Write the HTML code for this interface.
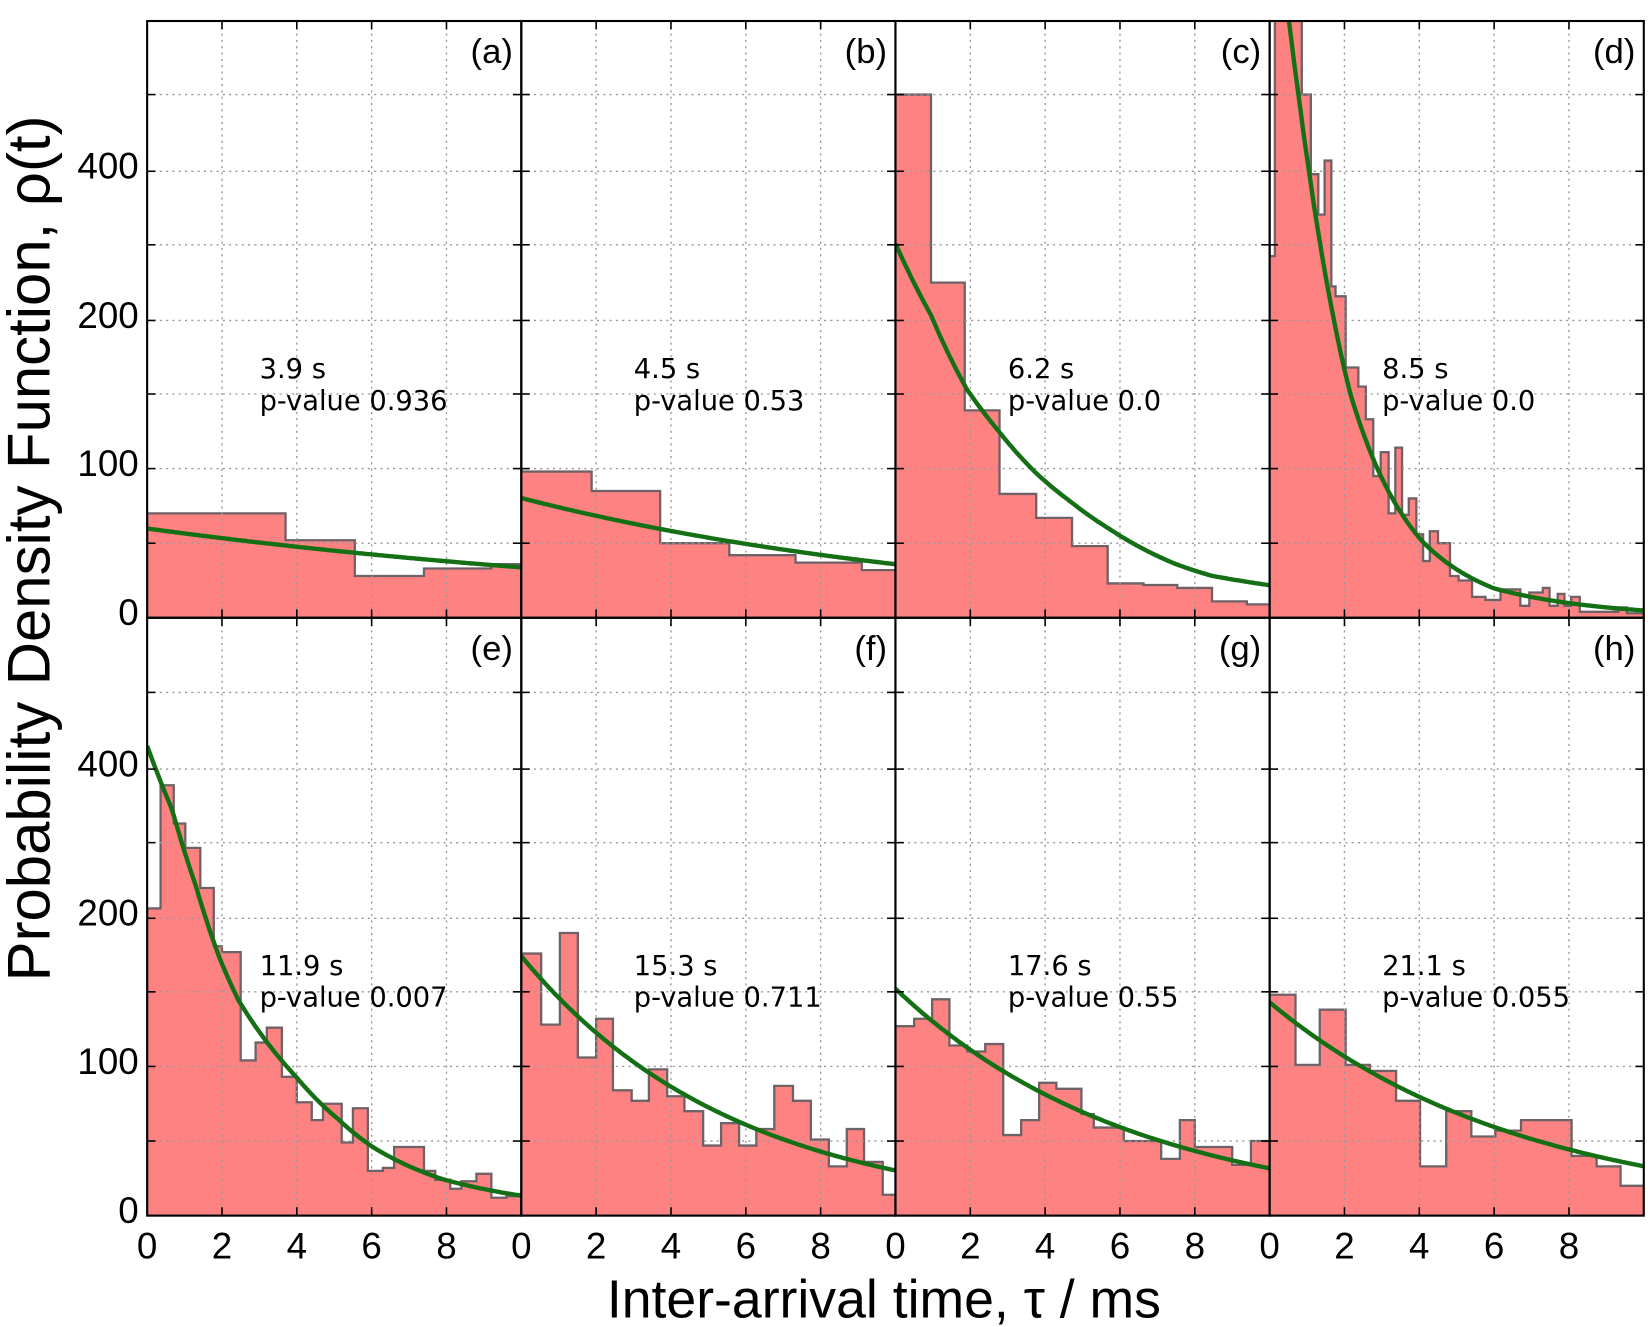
<!DOCTYPE html>
<html><head><meta charset="utf-8"><style>
html,body{margin:0;padding:0;background:#fff;}
svg{display:block;}
</style></head><body>
<svg id="s" width="1648" height="1327" viewBox="0 0 1568 1263" preserveAspectRatio="none" xmlns="http://www.w3.org/2000/svg"></svg>
<script>
const S=document.getElementById('s');
const M=[[0,0],[50,71],[100,142],[150,213],[200,283],[300,355],[400,425],[500,498],[600,568],[700,640]];
function off(v){for(let i=1;i<M.length;i++){if(v<=M[i][0]){const a=M[i-1],b=M[i];return a[1]+(v-a[0])/(b[0]-a[0])*(b[1]-a[1]);}}return 640;}
const PX=35.6;
const lefts=[140,496,852,1208];
const panels=[
{row:0,col:0,lab:'(a)',t1:'3.9 s',t2:'p-value 0.936',e:[0,3.7,5.55,7.4,9.2,10],v:[70,52,28,33,36],fit:[[0,85],[10,48]]},
{row:0,col:1,lab:'(b)',t1:'4.5 s',t2:'p-value 0.53',e:[0,1.88,3.71,5.56,7.33,9.1,10],v:[98,85,50,42,37,32],fit:[[0,114],[10,51]]},
{row:0,col:2,lab:'(c)',t1:'6.2 s',t2:'p-value 0.0',e:[0,0.95,1.85,2.78,3.76,4.72,5.67,6.63,7.53,8.46,9.39,10],v:[500,250,139,83,67,48,23,22,20,11,9],fit:[[0,356],[0.95,288],[1.9,218],[2.75,178],[3.75,138],[4.7,110],[5.7,85],[6.6,66],[7.5,51],[8.45,40],[10,31]]},
{row:0,col:3,lab:'(d)',t1:'8.5 s',t2:'p-value 0.0',e:[0,0.14,0.86,1.1,1.3,1.47,1.65,1.76,2.03,2.37,2.57,2.77,2.97,3.18,3.36,3.54,3.72,3.92,4.1,4.28,4.5,4.82,5.05,5.41,5.77,6.17,6.7,6.94,7.3,7.48,7.7,7.88,8.06,8.29,9.32,9.55,10],v:[285,700,500,396,341,414,245,232,168,155,133,95,111,70,114,69,80,56,38,58,50,28,25,14,12,19,8,17,20,8,16,8,14,4,7,3],fit:[[0.4,610],[0.5,573],[0.77,498],[1.04,428],[1.35,356],[1.71,285],[2.16,213],[2.88,142],[4.1,72],[6.0,28],[10,7]]},
{row:1,col:0,lab:'(e)',t1:'11.9 s',t2:'p-value 0.007',e:[0,0.36,0.71,1.02,1.42,1.78,2.0,2.5,2.9,3.2,3.6,4.0,4.4,4.7,5.2,5.5,5.9,6.3,6.6,7.0,7.4,7.7,8.1,8.4,8.8,9.2,9.6,10],v:[213,378,326,293,240,181,177,104,116,126,93,76,64,75,49,72,30,32,46,46,30,24,18,23,28,12,13],fit:[[0,447],[0.67,386],[1.29,315],[1.96,243],[2.44,205],[3.96,133],[5.1,92],[6.0,66],[7.87,35],[10,19]]},
{row:1,col:1,lab:'(f)',t1:'15.3 s',t2:'p-value 0.711',e:[0,0.53,1.03,1.51,2.0,2.45,2.95,3.41,3.9,4.36,4.86,5.34,5.82,6.28,6.76,7.26,7.74,8.22,8.7,9.16,9.66,10],v:[176,128,190,106,132,84,77,98,80,70,47,62,47,58,87,77,51,33,58,36,14],fit:[[0,247],[10,43]]},
{row:1,col:2,lab:'(g)',t1:'17.6 s',t2:'p-value 0.55',e:[0,0.5,0.98,1.44,1.92,2.4,2.88,3.36,3.84,4.3,4.97,5.3,6.1,7.1,7.6,8.0,9.0,9.5,10],v:[127,132,145,114,110,115,54,64,89,85,68,59,50,38,64,46,34,50],fit:[[0,216],[10,45]]},
{row:1,col:3,lab:'(h)',t1:'21.1 s',t2:'p-value 0.055',e:[0,0.69,1.34,2.03,2.68,3.38,4.02,4.72,5.39,6.03,6.72,8.07,8.74,9.38,10],v:[148,101,138,101,97,77,33,70,53,57,64,40,33,20],fit:[[0,203],[10,47]]}
];
let h='<defs>';
panels.forEach((p,i)=>{const L=lefts[p.col],T=p.row?588:20;h+=`<clipPath id="c${i}"><rect x="${L}" y="${T}" width="356" height="${p.row?569:568}"/></clipPath>`;});
h+='</defs>';
panels.forEach((p,i)=>{
 const L=lefts[p.col],B=p.row?1157:588,T=p.row?588:20;
 const X=t=>L+t*PX, Y=v=>B-off(v);
 let g=`<g clip-path="url(#c${i})">`;
 let d=`M${X(0)},${B}`;
 for(let k=0;k<p.v.length;k++){d+=` L${X(p.e[k]).toFixed(1)},${Y(p.v[k]).toFixed(1)} L${X(p.e[k+1]).toFixed(1)},${Y(p.v[k]).toFixed(1)}`;}
 d+=` L${X(p.e[p.e.length-1]).toFixed(1)},${B} Z`;
 g+=`<path d="${d}" fill="#ff8282" stroke="#6e6266" stroke-width="2.2" stroke-linejoin="miter"/>`;
 for(const t of [2,4,6,8]) g+=`<line x1="${X(t)}" y1="${T}" x2="${X(t)}" y2="${B}" stroke="#999" stroke-width="1.3" stroke-dasharray="2,4"/>`;
 for(const v of [50,100,150,200,300,400,500]) g+=`<line x1="${L}" y1="${Y(v)}" x2="${L+356}" y2="${Y(v)}" stroke="#999" stroke-width="1.3" stroke-dasharray="2,4"/>`;
 const f=p.fit;let pts=[];
 for(let t=f[0][0];t<=f[f.length-1][0]+1e-9;t+=0.05){let j=1;while(j<f.length-1&&t>f[j][0])j++;const a=f[j-1],b=f[j];const r=(t-a[0])/(b[0]-a[0]);const o=Math.exp(Math.log(a[1])+r*(Math.log(b[1])-Math.log(a[1])));pts.push(X(t).toFixed(1)+','+(B-o).toFixed(1));}
 g+=`<polyline points="${pts.join(' ')}" fill="none" stroke="#157015" stroke-width="4.2"/>`;
 g+='</g>';
 for(const t of [2,4,6,8]){g+=`<line x1="${X(t)}" y1="${B}" x2="${X(t)}" y2="${B-8}" stroke="#000" stroke-width="1.5"/><line x1="${X(t)}" y1="${T}" x2="${X(t)}" y2="${T+8}" stroke="#000" stroke-width="1.5"/>`;}
 for(const v of [50,100,150,200,300,400,500]){g+=`<line x1="${L}" y1="${Y(v)}" x2="${L+8}" y2="${Y(v)}" stroke="#000" stroke-width="1.5"/><line x1="${L+356}" y1="${Y(v)}" x2="${L+348}" y2="${Y(v)}" stroke="#000" stroke-width="1.5"/>`;}
 g+=`<rect x="${L}" y="${T}" width="356" height="${B-T}" fill="none" stroke="#000" stroke-width="2"/>`;
 g+=`<text x="${L+348}" y="${T+40}" text-anchor="end" font-family="Liberation Sans,sans-serif" font-size="33">${p.lab}</text>`;
 const ty=p.row?918:350;
 g+=`<text x="${L+107}" y="${ty+10}" font-family="DejaVu Sans,sans-serif" font-size="26">${p.t1}</text><text x="${L+107}" y="${ty+40}" font-family="DejaVu Sans,sans-serif" font-size="26">${p.t2}</text>`;
 h+=g;
});
const F='font-family="Liberation Sans,sans-serif"';
for(const B of [588,1157]){for(const v of [0,100,200,400]){h+=`<text x="132" y="${B-off(v)+7}" text-anchor="end" ${F} font-size="35">${v}</text>`;}}
for(const L of lefts){[0,2,4,6,8].forEach(t=>{h+=`<text x="${L+t*PX}" y="1198" text-anchor="middle" ${F} font-size="35">${t}</text>`;});}
h+=`<text x="841" y="1254" text-anchor="middle" ${F} font-size="51">Inter-arrival time, τ / ms</text>`;
h+=`<text transform="translate(47,522) rotate(-90)" text-anchor="middle" ${F} font-size="57">Probability Density Function, ρ(t)</text>`;
S.innerHTML=h;
</script>
</body></html>
